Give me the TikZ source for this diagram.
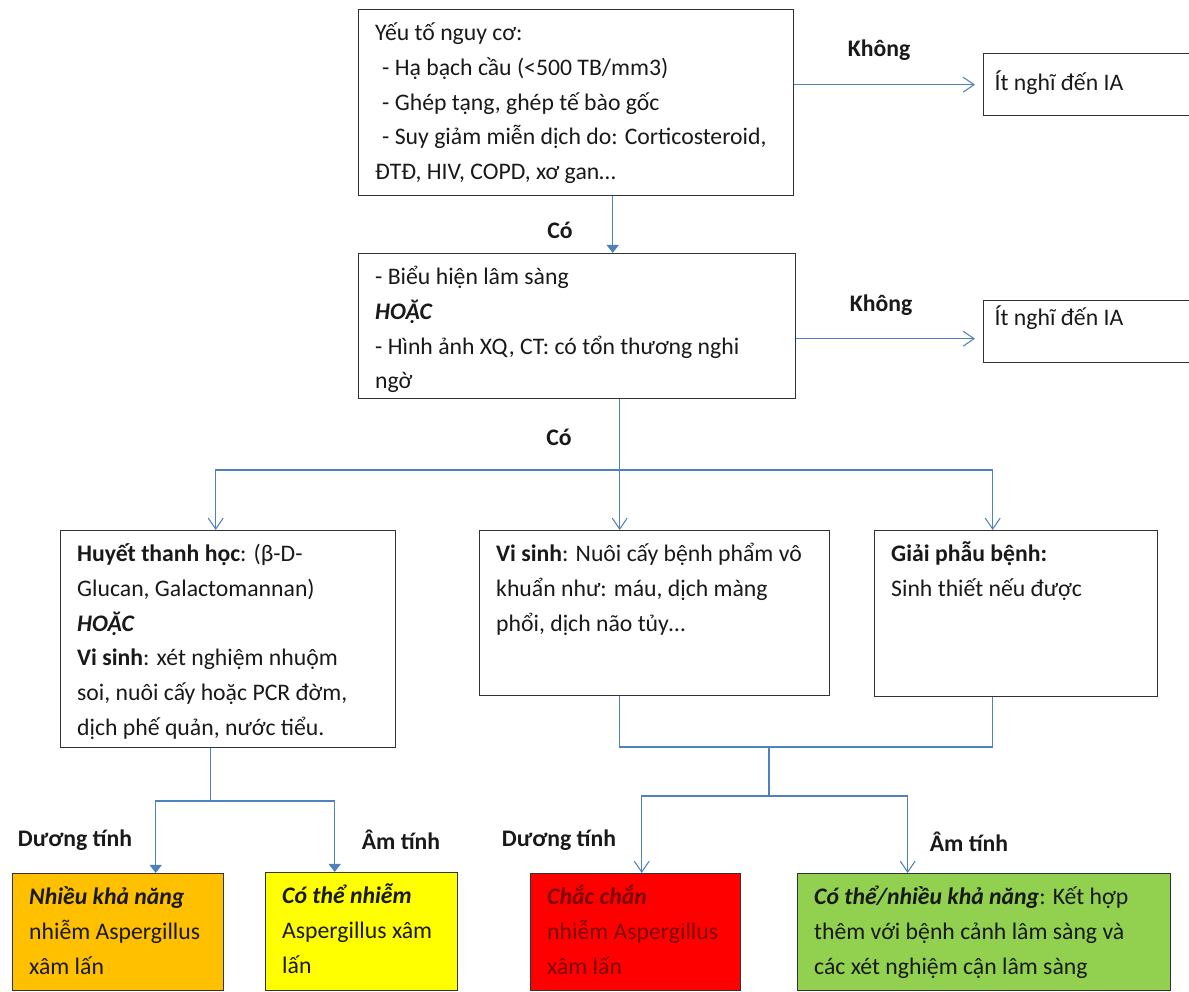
\documentclass[tikz,border=0pt]{standalone}
\usepackage{fontspec}
\setmainfont{Carlito}
\usepackage{tikz}
\usetikzlibrary{arrows.meta}
\usepackage{xcolor}
\definecolor{linkblue}{RGB}{79,129,189}
\definecolor{boxorange}{RGB}{255,192,0}
\definecolor{boxyellow}{RGB}{255,255,0}
\definecolor{boxred}{RGB}{255,0,0}
\definecolor{boxgreen}{RGB}{146,208,80}
\definecolor{txtred}{RGB}{125,0,0}
\newcommand{\flowtext}[3]{\parbox[t][#2][t]{#1}{\raggedright\strut#3}}

\begin{document}
\begin{tikzpicture}[x=0.2mm,y=-0.2mm,line cap=round,
  font={\fontsize{13.5pt}{19.8pt}\selectfont},
  flowbox/.style={draw=black!80,line width=0.8pt,anchor=north west,inner xsep=0.33cm,inner ysep=0.13cm,text=black!90},
  yesno/.style={font={\fontsize{13.5pt}{19.8pt}\selectfont\bfseries},text=black!90},
  link/.style={draw=linkblue,line width=0.6pt},
  linkto/.style={link,-{Straight Barb[length=2.2mm,width=3mm]}},
  linkfill/.style={link,-{Triangle[length=1.6mm,width=2.4mm]}}]
\useasboundingbox (0,0) rectangle (1189,992);
\node[flowbox] (risk) at (358,9) {\flowtext{8.04cm}{3.46cm}{Yếu tố nguy cơ:\\\hspace*{0.14cm}- Hạ bạch cầu (<500 TB/mm3)\\\hspace*{0.14cm}- Ghép tạng, ghép tế bào gốc\\\hspace*{0.14cm}- Suy giảm miễn dịch do: Corticosteroid,\\ĐTĐ, HIV, COPD, xơ gan…}};
\node[flowbox,inner xsep=0.22cm,inner ysep=0.25cm] (few1) at (983,53) {\flowtext{3.9cm}{0.74cm}{Ít nghĩ đến IA}};
\node[flowbox,inner xsep=0.22cm,inner ysep=0.01cm] (few2) at (983,300) {\flowtext{3.9cm}{1.22cm}{Ít nghĩ đến IA}};
\node[flowbox] (clin) at (358,253) {\flowtext{8.08cm}{2.64cm}{- Biểu hiện lâm sàng\\\textbf{\textit{HOẶC}}\\- Hình ảnh XQ, CT: có tổn thương nghi\\ngờ}};
\node[flowbox] (sero) at (60,530) {\flowtext{6.04cm}{4.08cm}{\textbf{Huyết thanh học}: (β-D-\\Glucan, Galactomannan)\\\textbf{\textit{HOẶC}}\\\textbf{Vi sinh}: xét nghiệm nhuộm\\soi, nuôi cấy hoặc PCR đờm,\\dịch phế quản, nước tiểu.}};
\node[flowbox] (micro) at (479,530) {\flowtext{6.34cm}{3.04cm}{\textbf{Vi sinh}: Nuôi cấy bệnh phẩm vô\\khuẩn như: máu, dịch màng\\phổi, dịch não tủy…}};
\node[flowbox] (patho) at (874,530) {\flowtext{5.00cm}{3.06cm}{\textbf{Giải phẫu bệnh:}\\Sinh thiết nếu được}};
\node[flowbox,fill=boxorange] (likely) at (12,873) {\flowtext{3.56cm}{2.08cm}{\textbf{\textit{Nhiều khả năng}}\\nhiễm Aspergillus\\xâm lấn}};
\node[flowbox,fill=boxyellow] (possible) at (265,872) {\flowtext{3.18cm}{2.10cm}{\textbf{\textit{Có thể nhiễm}}\\Aspergillus xâm\\lấn}};
\node[flowbox,fill=boxred,text=txtred] (proven) at (530,873) {\flowtext{3.54cm}{2.08cm}{\textbf{\textit{Chắc chắn}}\\nhiễm Aspergillus\\xâm lấn}};
\node[flowbox,fill=boxgreen] (combine) at (797,873) {\flowtext{6.80cm}{2.08cm}{\textbf{\textit{Có thể/nhiều khả năng}}: Kết hợp\\thêm với bệnh cảnh lâm sàng và\\các xét nghiệm cận lâm sàng}};
\node[yesno] (no1) at (879,50) {Không};
\node[yesno] (no2) at (881,305) {Không};
\node[yesno] (yes1) at (560,230) {Có};
\node[yesno] (yes2) at (559,437) {Có};
\node[yesno] (pos1) at (75,840) {Dương tính};
\node[yesno] (neg1) at (401,840) {Âm tính};
\node[yesno] (pos2) at (559,840) {Dương tính};
\node[yesno] (neg2) at (969,842) {Âm tính};
\coordinate (riskOut) at ([xshift=7.3mm]risk.south);
\draw[linkfill] (riskOut) -- (riskOut |- clin.north);
\draw[linkto,shorten >=1.6mm] (risk.east |- few1.west) -- (few1.west);
\coordinate (few2In) at ([yshift=-1.4mm]few2.west);
\draw[linkto,shorten >=1.6mm] (clin.east |- few2In) -- (few2In);
\coordinate (seroIn) at ([xshift=-2.5mm]sero.north);
\coordinate (microIn) at ([xshift=-7mm]micro.north);
\coordinate (pathoIn) at ([xshift=-4.7mm]patho.north);
\coordinate (bar1) at (0,470);
\draw[linkto] (clin.south -| microIn) -- (microIn);
\draw[linkto] (microIn |- bar1) -| (seroIn);
\draw[linkto] (microIn |- bar1) -| (pathoIn);
\coordinate (seroOut) at ([xshift=-3.5mm]sero.south);
\coordinate (likelyIn) at ([xshift=7.5mm]likely.north);
\coordinate (possibleIn) at ([xshift=-5.4mm]possible.north);
\coordinate (bar2) at (0,801);
\draw[link] (seroOut) -- (seroOut |- bar2);
\draw[linkfill] (seroOut |- bar2) -| (likelyIn);
\draw[linkfill] (seroOut |- bar2) -| (possibleIn);
\coordinate (merge) at (769,747);
\coordinate (bar3) at (0,796);
\coordinate (provenIn) at ([xshift=1.2mm]proven.north);
\coordinate (combineIn) at ([xshift=-15.3mm]combine.north);
\draw[link] (microIn |- micro.south) |- (merge) -| (pathoIn |- patho.south);
\draw[link] (merge) -- (merge |- bar3);
\draw[linkto] (merge |- bar3) -| (provenIn);
\draw[linkto] (merge |- bar3) -| (combineIn);
\end{tikzpicture}
\end{document}
